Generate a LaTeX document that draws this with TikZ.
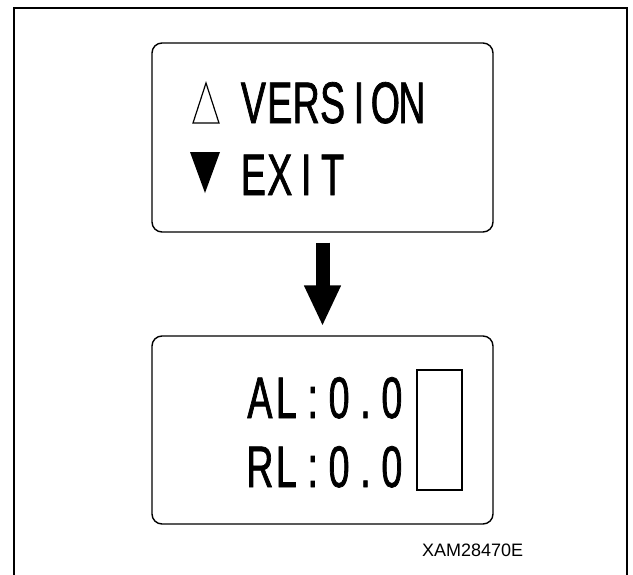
\documentclass[tikz,border=0pt]{standalone}
\usepackage{fontspec}
\setmainfont{Liberation Sans}
\newfontfamily\lcdfont[FakeStretch=0.64, FakeBold=1.2]{Liberation Sans}
\usetikzlibrary{arrows.meta}
\newcommand\lcdcell[1]{\makebox[26.4pt]{#1}}
\tikzset{
  panel/.style={draw, line width=1.4pt, rounded corners=10pt, inner sep=0pt},
  lcd/.style={inner sep=0pt, anchor=base west, font=\lcdfont\fontsize{58.6}{60}\selectfont},
  bigarrow/.style={line width=14pt, -{Triangle[length=41pt, width=34pt]}},
}
\begin{document}
\begin{tikzpicture}[x=1pt, y=-1pt]
\useasboundingbox (0,0) rectangle (633,574);
% outer frame (open at the bottom)
\draw[line width=2.2pt] (14,580) -- (14,8) -- (627,8) -- (627,580);
% panels
\node[panel, minimum width=341pt, minimum height=189pt] (top) at (322.5,137.5) {};
\node[panel, minimum width=341pt, minimum height=188pt] (bot) at (322.5,430) {};
% top panel content
\coordinate (up1) at (193,123);
\draw[line width=1.2pt, line join=miter] (up1) -- ++(26,0) -- ++(-13,-40) -- cycle;
\coordinate (dn1) at (190,152);
\fill (dn1) -- ++(30,0) -- ++(-15,41) -- cycle;
\node[lcd] (ver) at (240,123) {\lcdcell{V}\lcdcell{E}\lcdcell{R}\lcdcell{S}\lcdcell{I}\lcdcell{O}\lcdcell{N}};
\node[lcd] (exit) at (240,195) {\lcdcell{E}\lcdcell{X}\lcdcell{I}\lcdcell{T}};
% arrow
\draw[bigarrow] ([yshift=-10pt]top.south) -- ([yshift=9pt]bot.north);
% bottom panel content
\node[lcd] (al) at (246.5,418) {\lcdcell{A}\lcdcell{L}\lcdcell{:}\lcdcell{0}\lcdcell{.}\lcdcell{0}};
\node[lcd] (rl) at (246.5,487) {\lcdcell{R}\lcdcell{L}\lcdcell{:}\lcdcell{0}\lcdcell{.}\lcdcell{0}};
\node[draw, line width=1.2pt, minimum width=45pt, minimum height=120pt, inner sep=0pt] (bar) at (439.5,430) {};
% code
\node[inner sep=0pt, anchor=base west, font=\fontsize{18}{20}\selectfont] (code) at (422,556) {XAM28470E};
\end{tikzpicture}
\end{document}
